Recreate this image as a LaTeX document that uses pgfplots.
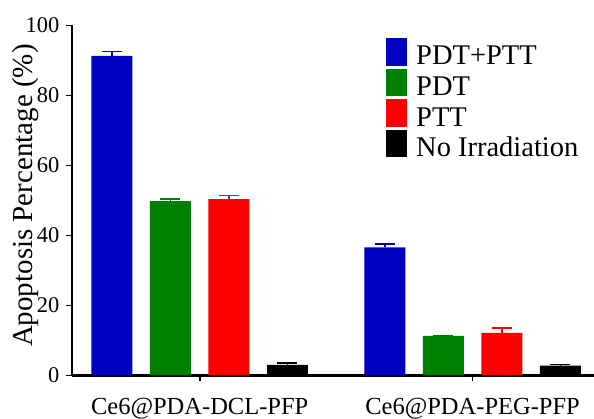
\documentclass[border=0pt]{standalone}
\usepackage{pgfplots}
\pgfplotsset{compat=1.18}
\usepackage{fontspec}
\setmainfont{Liberation Serif}
\definecolor{cblue}{RGB}{0,0,192}
\definecolor{cgreen}{RGB}{0,128,0}
\definecolor{cred}{RGB}{255,0,0}
\pgfplotsset{ebar/.style={error bars/.cd, y dir=plus, y explicit,
  error bar style={line width=1.5pt, draw=#1, solid},
  error mark options={rotate=90, line width=1.5pt, mark size=10pt, draw=#1}}}
\begin{document}
\begin{tikzpicture}
\begin{axis}[name=ax, scale only axis, width=522pt, height=350pt,
  xmin=-0.468, xmax=1.445, ymin=0, ymax=100,
  axis lines*=left, axis line style={line width=2.4pt},
  xtick={0,1}, xticklabels={Ce6@PDA-DCL-PFP, Ce6@PDA-PEG-PFP},
  ytick={0,20,...,100},
  tick align=outside, major tick length=5.5pt, tick style={line width=1.8pt, black},
  /pgf/number format/assume math mode=true,
  yticklabel style={inner sep=0pt, xshift=-7pt, font=\fontsize{22.5}{26}\selectfont},
  xticklabel style={inner sep=0pt, yshift=-17pt, anchor=north, font=\fontsize{24.5}{26}\selectfont},
  ylabel={Apoptosis Percentage (\%)},
  every axis y label/.style={at={(rel axis cs:0,0.514)}, xshift=-46pt, rotate=90, anchor=center, font=\fontsize{29}{32}\selectfont},
  ybar, bar width=0.150, bar shift=0pt,
  legend style={at={(rel axis cs:0.6015,0.964)}, anchor=north west, draw=none, fill=none, inner sep=0pt, row sep=0pt,
    font=\fontsize{28.5}{30}\selectfont, nodes={inner sep=1pt, text height=20pt, text depth=3pt},
    /tikz/every odd column/.append style={column sep=8pt}},
  legend cell align=left,
  legend image code/.code={\fill[#1] (0pt,-9.3pt) rectangle (21pt,18.1pt);},
]
\addplot[fill=cblue, draw=none, ebar=cblue] coordinates {(-0.3217,91.3) +- (0,1.3) (0.6783,36.6) +- (0,0.9)};
\addplot[fill=cgreen, draw=none, ebar=cgreen] coordinates {(-0.1072,49.8) +- (0,0.6) (0.8928,11.3) +- (0,0.15)};
\addplot[fill=cred, draw=none, ebar=cred] coordinates {(0.1072,50.4) +- (0,1.0) (1.1072,12.2) +- (0,1.4)};
\addplot[fill=black, draw=none, ebar=black] coordinates {(0.3217,3.0) +- (0,0.5) (1.3217,2.8) +- (0,0.4)};
\legend{PDT+PTT, PDT, PTT, No Irradiation}
\end{axis}
\pgfresetboundingbox
\path (ax.south west) ++(-72pt,-43.5pt) coordinate (bl);
\path (ax.north east) ++(0pt,25.5pt) coordinate (tr);
\useasboundingbox (bl) rectangle (tr);
\end{tikzpicture}
\end{document}
